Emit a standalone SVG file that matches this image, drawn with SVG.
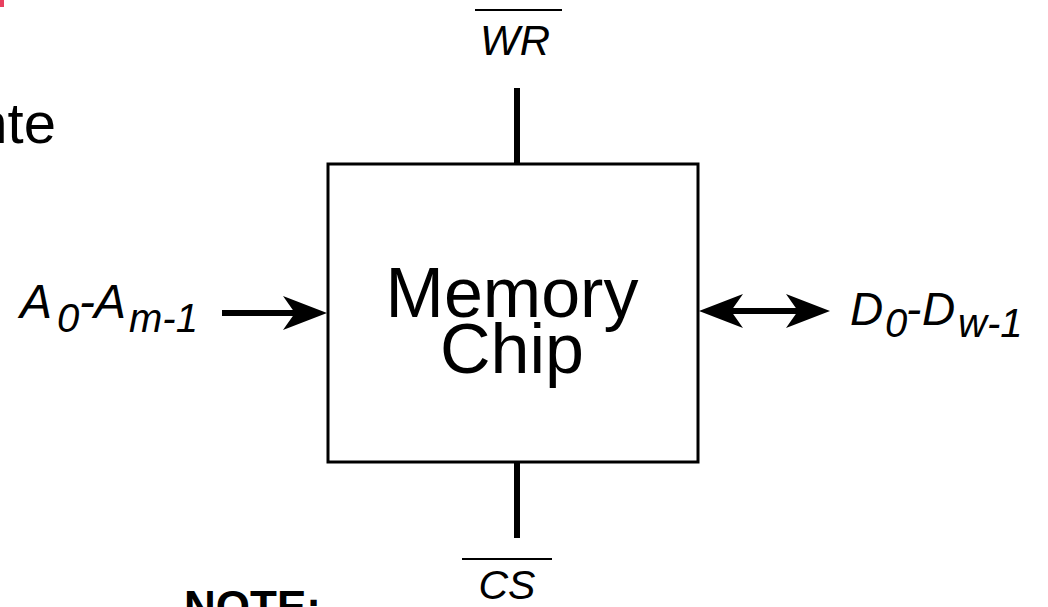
<svg xmlns="http://www.w3.org/2000/svg" width="1048" height="607" viewBox="0 0 1048 607">
<style>
text{font-family:"Liberation Sans",Arial,sans-serif;fill:#000}
.it{font-style:italic}
.wire{stroke:#000;stroke-width:6;fill:none}
.bar{stroke:#000;stroke-width:2}
</style>
<defs>
<path id="ah" d="M0,0 L-44,-17 Q-37,-7 -32,0 Q-37,7 -44,17 Z" fill="#000"/>
</defs>
<rect width="1048" height="607" fill="#fff"/>
<rect x="0" y="0" width="4" height="7" fill="#e8405f"/>
<text x="56" y="143" font-size="58" text-anchor="end">nte</text>
<text x="184" y="622" font-size="44" font-weight="bold">NOTE:</text>
<g id="chip">
<rect x="328" y="164" width="370" height="298" fill="#fff" stroke="#000" stroke-width="3"/>
<text x="512" y="317" font-size="70" text-anchor="middle">Memory</text>
<text x="512" y="373" font-size="70" text-anchor="middle">Chip</text>
</g>
<g id="wr">
<line class="bar" x1="475" y1="10" x2="562" y2="10"/>
<text class="it" x="515" y="55" font-size="42" text-anchor="middle">WR</text>
</g>
<g id="cs">
<line class="bar" x1="462" y1="559" x2="552" y2="559"/>
<text class="it" x="507" y="599" font-size="41" text-anchor="middle">CS</text>
</g>
<g id="addr">
<text class="it" font-size="48"><tspan x="20" y="318">A</tspan><tspan x="57" y="332" font-size="40">0</tspan><tspan x="79" y="318">-</tspan><tspan x="94" y="318">A</tspan><tspan x="129" y="332" font-size="40">m-1</tspan></text>
</g>
<g id="data">
<text class="it" font-size="46"><tspan x="850" y="325">D</tspan><tspan x="885" y="337" font-size="40">0</tspan><tspan x="906" y="325">-</tspan><tspan x="922" y="325">D</tspan><tspan x="958" y="337" font-size="40">w-1</tspan></text>
</g>
<g id="connectors">
<line class="wire" x1="517" y1="88" x2="517" y2="164"/>
<line class="wire" x1="517" y1="462" x2="517" y2="538"/>
<line class="wire" x1="222" y1="313" x2="300" y2="313"/>
<use href="#ah" transform="translate(327,313)"/>
<line class="wire" x1="730" y1="311" x2="800" y2="311" stroke-width="5"/>
<use href="#ah" transform="translate(699,311) rotate(180)"/>
<use href="#ah" transform="translate(830,311)"/>
</g>
</svg>
